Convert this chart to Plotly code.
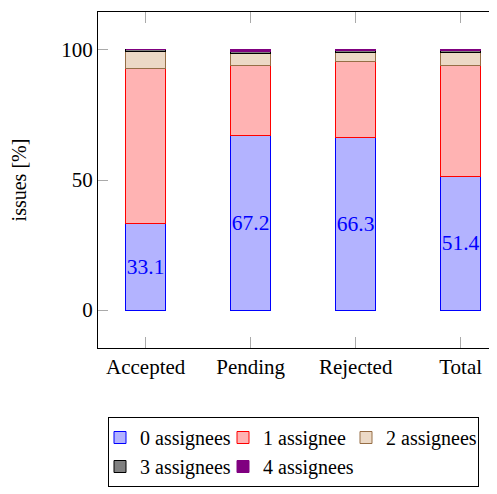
import plotly.graph_objects as go

categories = ["Accepted", "Pending", "Rejected", "Total"]
zero_assignees = [33.1, 67.2, 66.3, 51.4]
one_assignee = [59.6, 27.0, 29.2, 42.7]
two_assignees = [6.9, 4.3, 3.5, 4.9]
three_assignees = [0.4, 1.0, 0.8, 0.7]
four_assignees = [0.0, 0.5, 0.2, 0.3]
series_names = ["0 assignees", "1 assignee", "2 assignees", "3 assignees", "4 assignees"]
y_ticks = [0, 50, 100]

FONT = "Liberation Serif"
fills = ["rgb(179,179,255)", "rgb(255,179,179)", "rgb(236,217,198)", "rgb(128,128,128)", "rgb(128,0,128)"]
edges = ["blue", "red", "rgb(150,110,70)", "black", "rgb(128,0,128)"]
values = [zero_assignees, one_assignee, two_assignees, three_assignees, four_assignees]

# page body has an 8px default margin, so the figure is drawn 8px smaller
W, H = 489, 486

fig = go.Figure()
for i, (name, vals) in enumerate(zip(series_names, values)):
    kw = {}
    if i == 0:
        kw = dict(text=[f"{v:.1f}" for v in vals], textposition="inside", textangle=0,
                  insidetextanchor="middle", textfont=dict(color="blue", size=21.5, family=FONT))
    fig.add_trace(go.Bar(x=categories, y=vals, name=name, width=0.381,
                         marker=dict(color=fills[i], line=dict(color=edges[i], width=1)),
                         **kw))

fig.update_layout(
    barmode="stack",
    width=W, height=H,
    margin=dict(l=90, r=0, t=4, b=146),
    plot_bgcolor="white", paper_bgcolor="white",
    font=dict(family=FONT, size=20, color="black"),
    uniformtext=dict(mode="show", minsize=20),
    showlegend=True,
    legend=dict(orientation="h", xref="container", yref="container",
                x=100/W, y=1-409/H, xanchor="left", yanchor="top",
                bordercolor="black", borderwidth=1, indentation=-9,
                entrywidth=87, entrywidthmode="pixels",
                font=dict(family=FONT, size=20), traceorder="normal"),
)
fig.update_xaxes(range=[-0.454, 3.346], showline=True, linecolor="black", linewidth=1,
                 mirror="ticks", ticks="inside", ticklen=11, tickcolor="#aaaaaa", tickwidth=1.3,
                 showgrid=False, tickfont=dict(size=21, family=FONT))
fig.update_yaxes(range=[-14.6, 114.6], showline=True, linecolor="black", linewidth=1,
                 ticks="inside", ticklen=10, tickcolor="#aaaaaa", tickwidth=1.3,
                 tickvals=y_ticks, showgrid=False, zeroline=False, automargin=False,
                 title=dict(text="issues [%]", font=dict(size=20, family=FONT), standoff=35),
                 tickfont=dict(size=21, family=FONT))

fig.write_html("out.html")
